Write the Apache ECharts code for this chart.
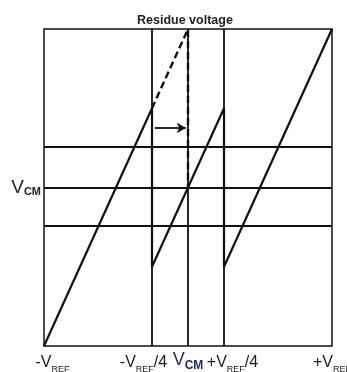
<!DOCTYPE html>
<html>
<head>
<meta charset="utf-8">
<script src="https://cdn.jsdelivr.net/npm/echarts@6/dist/echarts.min.js"></script>
<style>
html,body{margin:0;padding:0;background:#fff;}
#chart{width:347px;height:372px;}
</style>
</head>
<body>
<div id="chart"></div>
<script>
// ---- data ----
var sawX = [-1, -0.25, -0.25, 0.25, 0.25, 1];
var sawY = [0, 0.75, 0.25, 0.75, 0.25, 1];
var dashX = [-0.25, 0, 0];
var dashY = [0.75, 1, 0.5];
var vLines = [-0.25, 0, 0.25];
var hLines = [0.375, 0.5, 0.625];
var arrowStart = [-0.23, 0.688];
var arrowEnd = [-0.015, 0.688];
var xTickValues = [-1, -0.25, 0, 0.25, 1];
var xTickLabels = ['{vl|-V}{s|REF}', '{v|-V}{s|REF}{vr|/4}', '{c|V}{cs|CM}', '{vl|+V}{s|REF}{v|/4}', '{v|+V}{s|REF}'];
var yTickValues = [0.5];
var yTickLabels = ['{v|V}{s|CM}'];
var titleText = 'Residue voltage';

function zip(xs, ys) { return xs.map(function (x, i) { return [x, ys[i]]; }); }

var F = 'Liberation Sans';
var rich = {
  v: { fontSize: 16, fontFamily: F, color: '#1a1a1a', lineHeight: 20 },
  vl: { fontSize: 16, fontFamily: F, color: '#1a1a1a', lineHeight: 20, padding: [0, 0, 0, 17] },
  vr: { fontSize: 16, fontFamily: F, color: '#1a1a1a', lineHeight: 20, padding: [0, 17, 0, 0] },
  s: { fontSize: 9, fontFamily: F, color: '#1a1a1a', padding: [13, 0, 0, 0], lineHeight: 20 },
  c: { fontSize: 18, fontFamily: F, color: '#1e2a55', lineHeight: 20, padding: [0, 0, 5, 0] },
  cs: { fontSize: 12, fontFamily: F, color: '#1e2a55', fontWeight: 'bold', padding: [6, 0, 0, 0], lineHeight: 20 }
};
var richY = {
  v: { fontSize: 19, fontFamily: F, color: '#222', lineHeight: 20 },
  s: { fontSize: 11, fontFamily: F, color: '#222', fontWeight: 'bold', padding: [9, 0, 0, 0], lineHeight: 20 }
};

var chart = echarts.init(document.getElementById('chart'), null, { renderer: 'canvas' });
chart.setOption({
  animation: false,
  backgroundColor: '#fff',
  title: {
    text: titleText,
    left: 132, top: 9,
    textStyle: { fontSize: 12.5, fontWeight: 'bold', fontFamily: F, color: '#222' }
  },
  grid: {
    left: 44, right: 15, top: 29, bottom: 26,
    outerBoundsMode: 'none', containLabel: false,
    show: true, borderColor: '#111', borderWidth: 1.5, backgroundColor: 'transparent'
  },
  xAxis: {
    type: 'value', min: -1, max: 1,
    axisLine: { show: false }, axisTick: { show: false }, splitLine: { show: false },
    axisLabel: {
      customValues: xTickValues,
      margin: 7,
      hideOverlap: false,
      formatter: function (val) { var i = xTickValues.indexOf(val); return i >= 0 ? xTickLabels[i] : ''; },
      rich: rich
    }
  },
  yAxis: {
    type: 'value', min: 0, max: 1,
    axisLine: { show: false }, axisTick: { show: false }, splitLine: { show: false },
    axisLabel: {
      customValues: yTickValues,
      margin: 3,
      formatter: function (val) { var i = yTickValues.indexOf(val); return i >= 0 ? yTickLabels[i] : ''; },
      rich: richY
    }
  },
  series: [
    {
      type: 'line', data: [], silent: true,
      markLine: {
        silent: true, symbol: ['none', 'none'], label: { show: false },
        lineStyle: { color: '#111', width: 1.8, type: 'solid' },
        emphasis: { disabled: true },
        data: vLines.map(function (v) { return { xAxis: v }; }).concat(hLines.map(function (v) { return { yAxis: v }; }))
      }
    },
    {
      type: 'line', data: zip(sawX, sawY), showSymbol: false, clip: false,
      lineStyle: { color: '#111', width: 2.2 }
    },
    {
      type: 'line', data: zip(dashX, dashY), showSymbol: false, clip: false,
      lineStyle: { color: '#111', width: 2.4, type: [7, 4] }
    },
    {
      type: 'line', data: [], silent: true,
      markLine: {
        silent: true, symbol: ['none', 'arrow'], symbolSize: [8, 9], label: { show: false },
        lineStyle: { color: '#111', width: 1.8, type: 'solid' },
        emphasis: { disabled: true },
        data: [[{ coord: arrowStart }, { coord: arrowEnd }]]
      }
    }
  ]
});
</script>
</body>
</html>
